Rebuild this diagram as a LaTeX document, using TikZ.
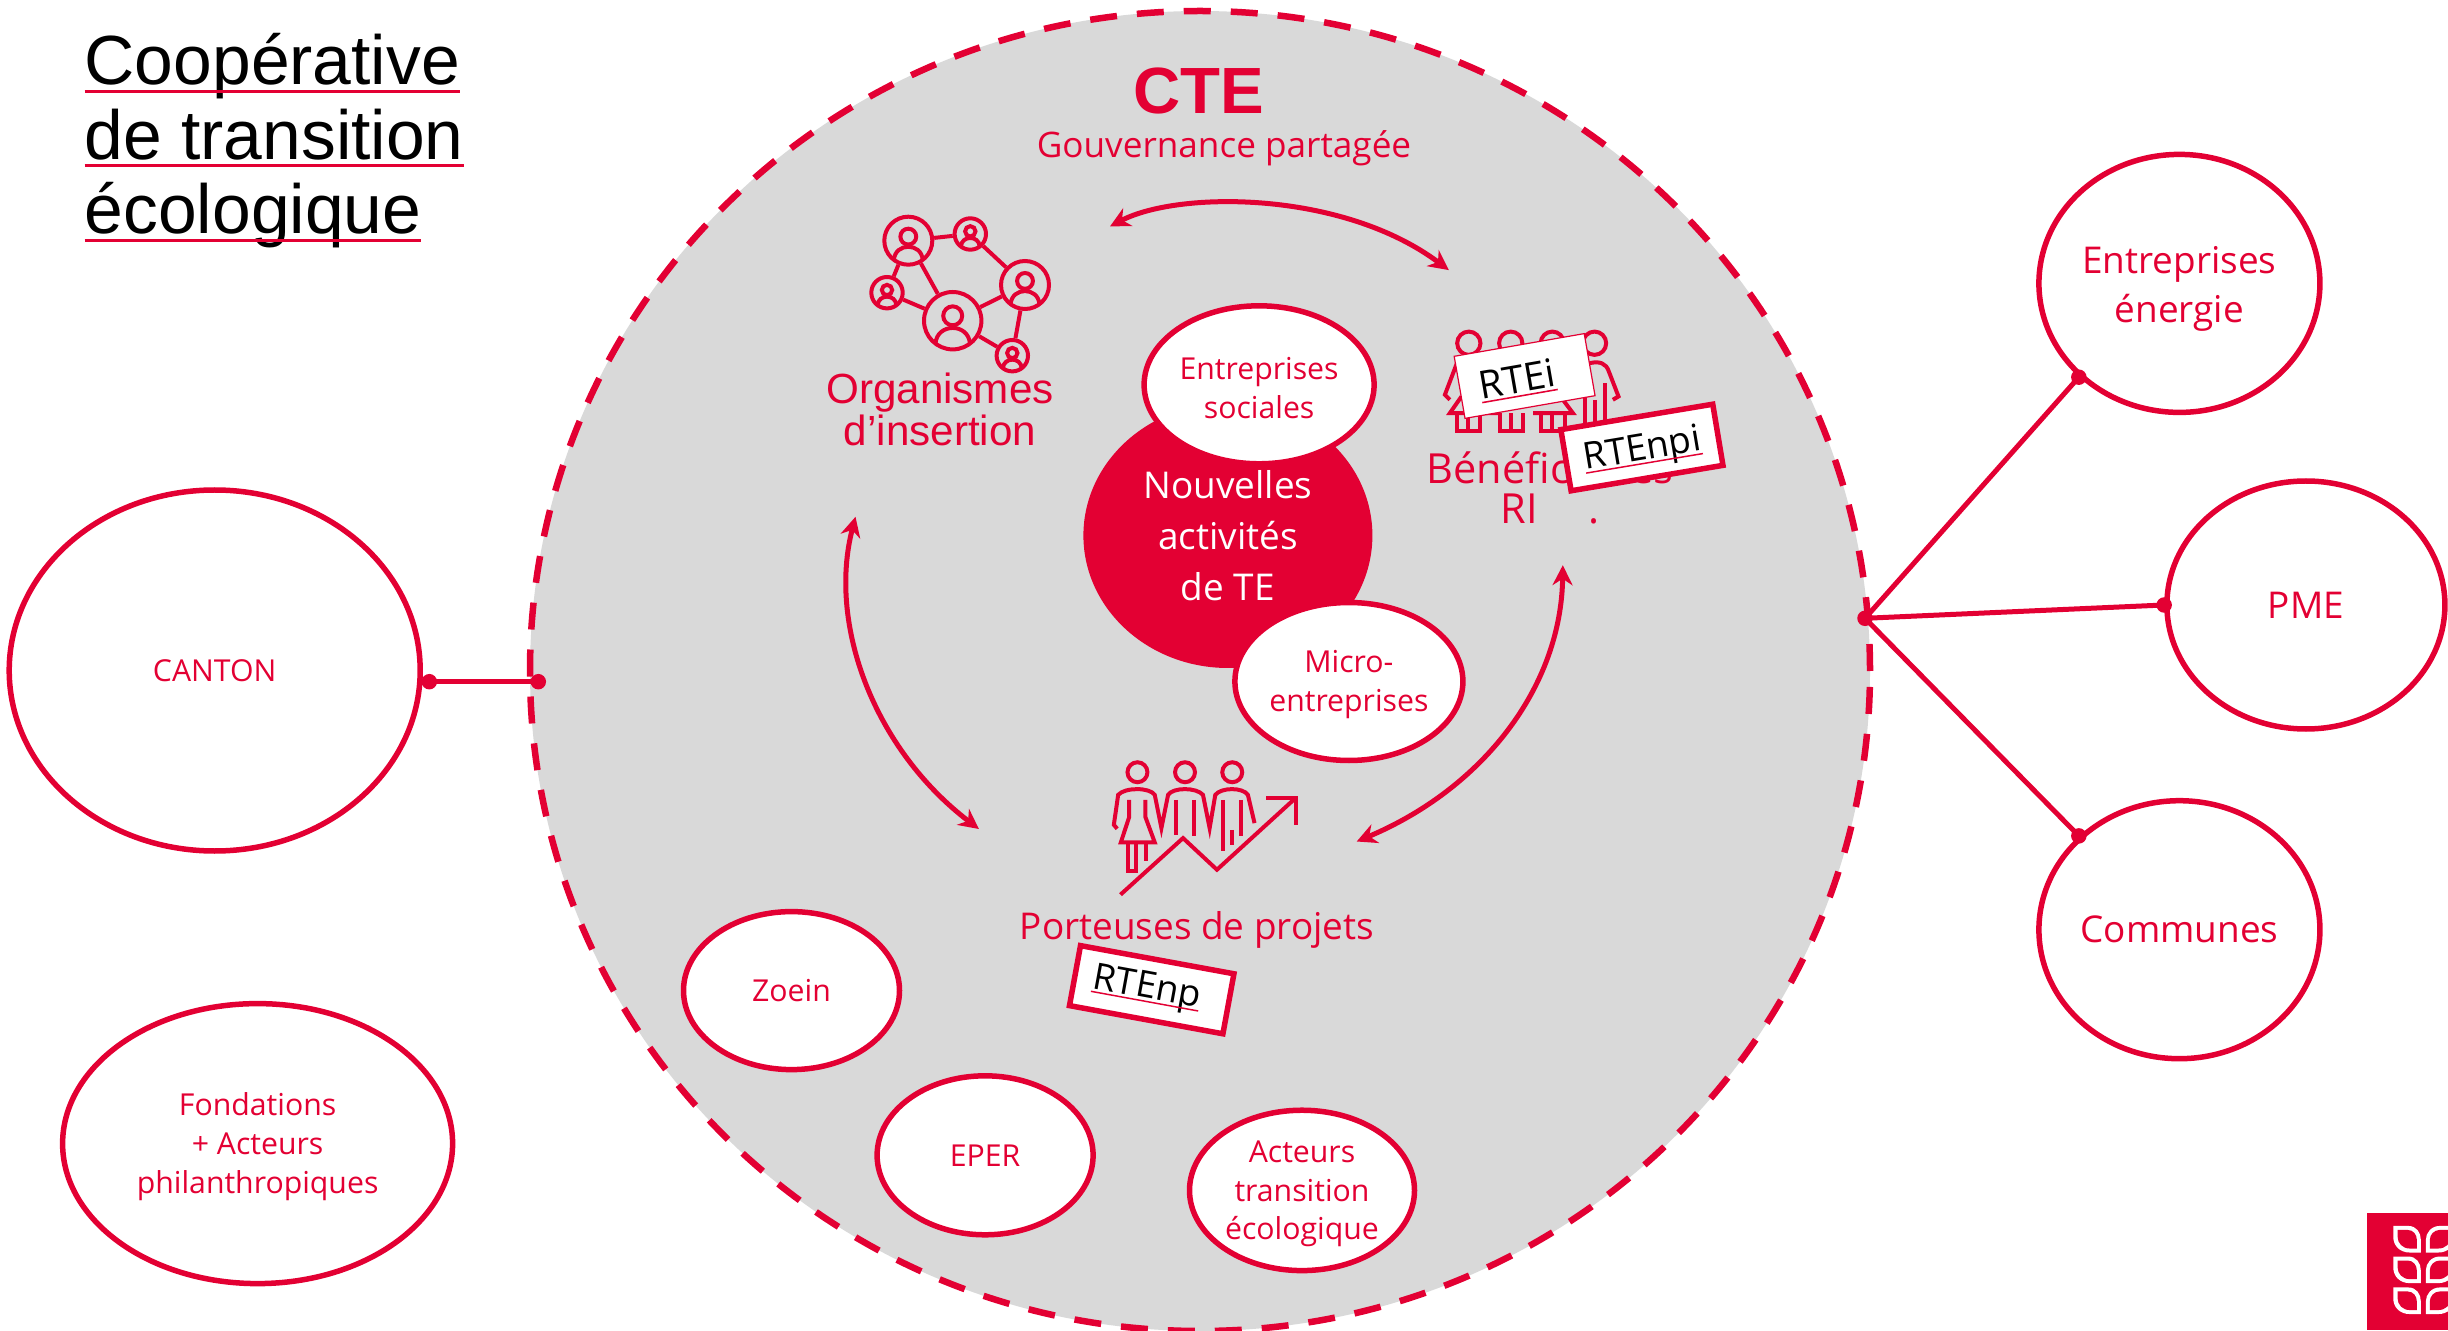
\documentclass[tikz,border=0pt]{standalone}
\usepackage{fontspec}
\setmainfont{Open Sans}
\newfontfamily\headfont{Liberation Sans}
\usetikzlibrary{arrows.meta}
\usetikzlibrary{shapes.geometric}
\tikzset{>=Stealth}
\definecolor{mainAccent}{HTML}{E30033}
\definecolor{discFill}{HTML}{D9D9D9}
\newsavebox\ulbox
\newcommand{\redul}[1]{\sbox\ulbox{#1}\usebox\ulbox\llap{\textcolor{mainAccent}{\rule[-.11em]{\wd\ulbox}{.04em}}}}
\newcommand{\tagtext}[2]{\raisebox{#1}[.8em][.2em]{\redul{#2}}}
\newcommand{\dropsmall}{\rule{0pt}{8.2pt}}
\newcommand{\dropbig}{\rule{0pt}{11pt}}
\tikzset{
  orgbox/.style={draw=mainAccent,fill=white,ellipse,line width=0.055cm,inner sep=0,text=mainAccent,align=center,font=\fontsize{8.6}{11}\selectfont},
  bigbox/.style={orgbox,font=\fontsize{10.5}{14}\selectfont},
  tagbox/.style={draw=mainAccent,fill=white,line width=0.055cm,inner sep=0,font=\fontsize{10.5}{12}\selectfont},
  redtext/.style={text=mainAccent,align=center,inner sep=0},
  dotnode/.style={circle,fill=mainAccent,inner sep=0,minimum size=0.155cm},
  linkline/.style={draw=mainAccent,line width=0.05cm},
  turnline/.style={draw=mainAccent,line width=0.05cm,{Stealth[length=0.2cm,width=0.2cm]}-{Stealth[length=0.2cm,width=0.2cm]}},
  iconline/.style={draw=mainAccent,line width=0.04cm},
  netnode/.style={circle,draw=mainAccent,line width=0.04cm,inner sep=0},
  netperson/.pic={
    \draw [iconline] (0,0.17) circle (0.33);
    \draw [iconline] (-0.6,-0.8) .. controls (-0.55,-0.07) and (0.55,-0.07) .. (0.6,-0.8);
  },
  leafpair/.pic={
    \fill [white] (160,0) -- (205,0) .. controls (230,0) and (243,20) .. (243,42) -- (243,80) -- (210,80) .. controls (180,80) and (160,60) .. (160,32) -- cycle;
    \fill [mainAccent] (173,12) -- (203,12) .. controls (220,12) and (231,26) .. (231,42) -- (231,68) -- (210,68) .. controls (188,68) and (173,52) .. (173,32) -- cycle;
    \fill [white] (258,80) -- (258,42) .. controls (258,20) and (275,0) .. (300,0) -- (345,0) -- (345,32) .. controls (345,60) and (325,80) .. (295,80) -- cycle;
    \fill [mainAccent] (270,68) -- (270,42) .. controls (270,26) and (283,12) .. (300,12) -- (333,12) -- (333,32) .. controls (333,52) and (318,68) .. (295,68) -- cycle;
  }
}

\begin{document}
\begin{tikzpicture}
\useasboundingbox (0,0) rectangle (24.48,13.3);

% title
\node (title) at (0.84,11.89) [anchor=west,align=left,inner sep=0,font=\headfont\fontsize{19.8}{21.2}\selectfont] {\redul{Coopérative}\\\redul{de transition}\\\redul{écologique}};

% big disc
\node (cte) at (12,6.59) [draw=mainAccent,fill=discFill,ellipse,dashed,dash pattern=on 0.27cm off 0.2cm,line width=0.065cm,inner sep=0,minimum width=13.4cm,minimum height=13.2cm] {};
\node (ctename) at (11.99,12.39) [redtext,font=\headfont\bfseries\fontsize{18.6}{22}\selectfont] {CTE};
\node (gouv) at (12.24,11.82) [redtext,font=\fontsize{10}{13}\selectfont] {Gouvernance partagée};

% turning arrows
\coordinate (turnAa) at (11.10,11.036);
\coordinate (turnAb) at (14.488,10.599);
\coordinate (turnBa) at (8.555,8.132);
\coordinate (turnBb) at (9.789,5.01);
\coordinate (turnCa) at (15.628,7.648);
\coordinate (turnCb) at (13.567,4.885);
\draw [turnline] (turnAa) .. controls (11.787,11.395) and (13.426,11.395) .. (turnAb);
\draw [turnline] (turnBa) .. controls (8.274,7.055) and (8.743,5.806) .. (turnBb);
\draw [turnline] (turnCa) .. controls (15.612,6.431) and (14.831,5.416) .. (turnCb);

% network icon
\node (netA) at (9.083,10.893) [netnode,minimum size=0.48cm] {};
\node (netB) at (9.703,10.96) [netnode,minimum size=0.314cm] {};
\node (netC) at (10.25,10.45) [netnode,minimum size=0.48cm] {};
\node (netD) at (8.87,10.373) [netnode,minimum size=0.314cm] {};
\node (netE) at (9.527,10.093) [netnode,minimum size=0.574cm] {};
\node (netF) at (10.123,9.743) [netnode,minimum size=0.314cm] {};
\pic [scale=0.24] at (netA) {netperson};
\pic [scale=0.157] at (netB) {netperson};
\pic [scale=0.24] at (netC) {netperson};
\pic [scale=0.157] at (netD) {netperson};
\pic [scale=0.287] at (netE) {netperson};
\pic [scale=0.157] at (netF) {netperson};
\draw [iconline] (netA) -- (netB);
\draw [iconline] (netB) -- (netC);
\draw [iconline] (netA) -- (netD);
\draw [iconline] (netA) -- (netE);
\draw [iconline] (netD) -- (netE);
\draw [iconline] (netE) -- (netC);
\draw [iconline] (netE) -- (netF);
\draw [iconline] (netC) -- (netF);
\node (orga) at (9.40,9.205) [redtext,font=\headfont\fontsize{12}{11.9}\selectfont] {Organismes\\d’insertion};

% people of the right group
\begin{scope}[shift={(13.8,10.3)},x=0.003333cm,y=-0.003333cm]
\draw [iconline] (267,130) circle (35);
\draw [iconline] (393,130) circle (35);
\draw [iconline] (518,130) circle (35);
\draw [iconline] (645,130) circle (35);
\draw [iconline] (235,180) -- (195,285) -- (210,300);
\draw [iconline] (245,290) -- (210,340) -- (345,340) -- (300,290);
\draw [iconline] (232,340) -- (232,395) -- (300,395) -- (300,340);
\draw [iconline] (265,340) -- (265,395);
\draw [iconline] (360,340) -- (360,395) -- (430,395) -- (430,340);
\draw [iconline] (395,340) -- (395,395);
\draw [iconline] (460,340) -- (580,340) -- (550,300);
\draw [iconline] (485,340) -- (485,395) -- (555,395) -- (555,340);
\draw [iconline] (518,340) -- (518,395);
\draw [iconline] (630,190) .. controls (660,183) and (680,190) .. (688,215) -- (717,290) -- (700,300);
\draw [iconline] (677,250) -- (677,360);
\draw [iconline] (645,300) -- (645,370);
\draw [iconline] (615,290) -- (615,370);
\end{scope}
\node (benef) at (15.5,8.42) [redtext,font=\fontsize{11.8}{11.5}\selectfont] {Bénéficiaires\\RI\hspace{0.5cm}.};
\node (rtei) at (15.246,9.54) [tagbox,line width=0.012cm,minimum width=1.32cm,minimum height=0.63cm,rotate=9.9,font=\fontsize{11}{12}\selectfont] {\tagtext{-.1em}{RTEi}\rule{0.16cm}{0pt}};
\node (rtenpi) at (16.419,8.825) [tagbox,minimum width=1.54cm,minimum height=0.62cm,rotate=9.5] {\tagtext{-.045em}{RTEnpi}};

% people of the lower group
\begin{scope}[shift={(10.4,6)},x=0.003333cm,y=-0.003333cm]
\draw [iconline] (293,127) circle (30);
\draw [iconline] (436,127) circle (30);
\draw [iconline] (578,127) circle (30);
\draw [iconline] (232,297) -- (222,285) -- (235,195) .. controls (255,172) and (330,172) .. (345,195) -- (365,295) -- (385,195) .. controls (400,172) and (470,172) .. (490,195) -- (510,295) -- (527,195) .. controls (545,172) and (610,172) .. (625,195) -- (645,280);
\draw [iconline] (268,210) -- (268,262) -- (243,338) -- (345,338) -- (317,262) -- (317,210);
\draw [iconline] (265,338) -- (265,425) -- (290,425) -- (290,338);
\draw [iconline] (318,338) -- (318,395);
\draw [iconline] (410,210) -- (410,315);
\draw [iconline] (462,210) -- (462,320);
\draw [iconline] (550,210) -- (550,365);
\draw [iconline] (605,210) -- (605,320);
\draw [iconline] (577,300) -- (577,345);
\draw [iconline] (242,495) -- (430,325) -- (532,420) -- (770,203);
\draw [iconline] (680,203) -- (770,203) -- (770,285);
\end{scope}
\node (port) at (11.97,4.0) [redtext,font=\fontsize{10.5}{13}\selectfont] {Porteuses de projets};
\node (rtenp) at (11.517,3.403) [tagbox,minimum width=1.56cm,minimum height=0.61cm,rotate=-10.4] {\tagtext{.05em}{RTEnp}\rule{0.1cm}{0pt}};

% centre
\node (nouv) at (12.279,7.945) [fill=mainAccent,ellipse,inner sep=0,minimum width=2.89cm,minimum height=2.65cm,text=white,align=center,font=\fontsize{10.5}{14.5}\selectfont] {Nouvelles\\activités\\de TE};
\node (esoc) at (12.591,9.452) [orgbox,minimum width=2.3cm,minimum height=1.58cm] {\dropsmall Entreprises\\sociales};
\node (micro) at (13.489,6.485) [orgbox,minimum width=2.28cm,minimum height=1.58cm] {\dropsmall Micro-\\entreprises};

% small groups in the disc
\node (zoein) at (7.915,3.394) [orgbox,minimum width=2.16cm,minimum height=1.58cm] {Zoein};
\node (eper) at (9.851,1.747) [orgbox,minimum width=2.16cm,minimum height=1.59cm] {EPER};
\node (acteurs) at (13.02,1.396) [orgbox,minimum width=2.25cm,minimum height=1.58cm] {\dropsmall Acteurs\\transition\\écologique};

% outside
\node (canton) at (2.147,6.595) [orgbox,minimum width=4.11cm,minimum height=3.61cm] {CANTON};
\node (fond) at (2.576,1.864) [orgbox,minimum width=3.9cm,minimum height=2.8cm] {\dropsmall Fondations\\+ Acteurs\\philanthropiques};
\node (energie) at (21.794,10.466) [bigbox,minimum width=2.81cm,minimum height=2.58cm] {\dropbig Entreprises\\énergie};
\node (pme) at (23.059,7.25) [bigbox,minimum width=2.78cm,minimum height=2.48cm] {PME};
\node (communes) at (21.794,4.003) [bigbox,minimum width=2.81cm,minimum height=2.58cm] {Communes};

% links
\node (cantonDot) at (4.293,6.483) [dotnode] {};
\node (cteDotW) at (5.383,6.483) [dotnode] {};
\node (cteDotE) at (18.65,7.117) [dotnode] {};
\node (energieDot) at (energie.223) [dotnode] {};
\node (pmeDot) at (pme.west) [dotnode] {};
\node (communesDot) at (communes.137) [dotnode] {};
\draw [linkline] (cantonDot.center) -- (cteDotW.center);
\draw [linkline] (cteDotE.center) -- (energieDot.center);
\draw [linkline] (cteDotE.center) -- (pmeDot.center);
\draw [linkline] (cteDotE.center) -- (communesDot.center);

% corner mark
\fill [mainAccent] (23.667,0) rectangle (24.48,1.167);
\begin{scope}[shift={(23.4,1.4)},x=0.003333cm,y=-0.003333cm]
\pic at (0,108) {leafpair};
\pic at (0,200) {leafpair};
\pic at (0,293) {leafpair};
\end{scope}

\end{tikzpicture}
\end{document}
